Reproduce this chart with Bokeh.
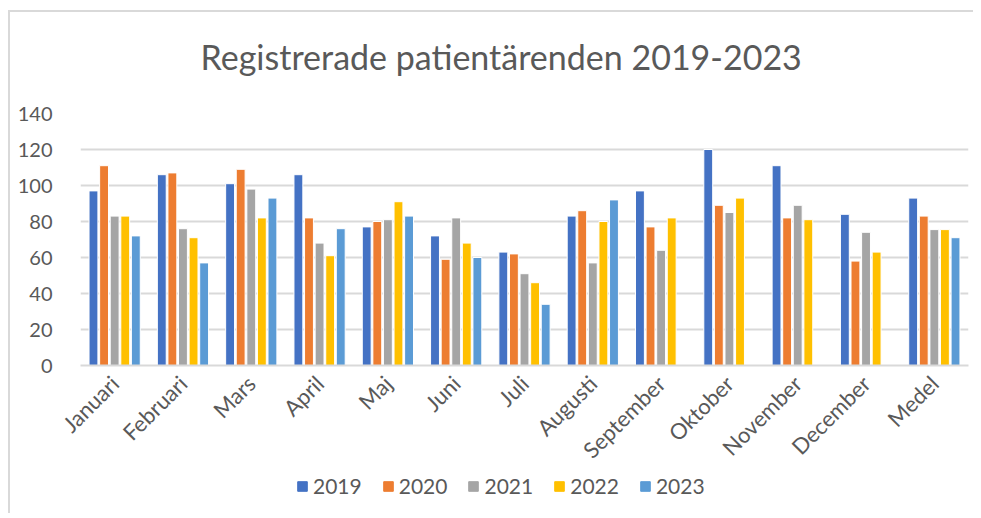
import math
from bokeh.plotting import figure
from bokeh.layouts import column
from bokeh.models import ColumnDataSource, FactorRange, Legend, LegendItem, Title
from bokeh.transform import dodge
from bokeh.embed import file_html
from bokeh.resources import INLINE

months = ["Januari", "Februari", "Mars", "April", "Maj", "Juni", "Juli",
          "Augusti", "September", "Oktober", "November", "December", "Medel"]
years = ["2019", "2020", "2021", "2022", "2023"]
v2019 = [97, 106, 101, 106, 77, 72, 63, 83, 97, 120, 111, 84, 93]
v2020 = [111, 107, 109, 82, 80, 59, 62, 86, 77, 89, 82, 58, 83]
v2021 = [83, 76, 98, 68, 81, 82, 51, 57, 64, 85, 89, 74, 75.5]
v2022 = [83, 71, 82, 61, 91, 68, 46, 80, 82, 93, 81, 63, 75.5]
v2023 = [72, 57, 93, 76, 83, 60, 34, 92, None, None, None, None, 71]
colors = ["#4472C4", "#ED7D31", "#A5A5A5", "#FFC000", "#5B9BD5"]
series = [v2019, v2020, v2021, v2022, v2023]
offsets = [-0.31, -0.155, 0.0, 0.155, 0.31]

TXT = "#595959"
FONT = "Lato"
BORDER = "2px solid #D9D9D9"

p = figure(x_range=FactorRange(*months, range_padding=0), y_range=(0, 140),
           width=965, height=463, output_backend="svg", toolbar_location=None,
           min_border_left=70, min_border_right=7, min_border_top=101,
           min_border_bottom=110)
p.styles = {"border-left": BORDER, "border-top": BORDER,
            "position": "relative", "left": "8px", "top": "10px"}

# legend strip below the chart (shares the data; its bars fall outside its y range)
q = figure(width=965, height=40, x_range=FactorRange(*months, range_padding=0),
           y_range=(1000, 1001), output_backend="svg", toolbar_location=None,
           min_border_left=0, min_border_right=0, min_border_top=0, min_border_bottom=0)
q.styles = {"border-left": BORDER, "position": "relative", "left": "8px", "top": "10px"}
q.axis.visible = False
q.grid.grid_line_color = None
q.outline_line_color = None
q.background_fill_color = "white"
q.border_fill_color = "white"

items = []
for yr, vals, col, off in zip(years, series, colors, offsets):
    xs = [m for m, v in zip(months, vals) if v is not None]
    ys = [v for v in vals if v is not None]
    src = ColumnDataSource(dict(x=xs, top=ys))
    p.vbar(x=dodge("x", off, range=p.x_range), top="top", width=0.13,
           source=src, fill_color=col, line_color="white", line_width=1)
    r = q.vbar(x=dodge("x", off, range=q.x_range), top="top", width=0.13,
               source=src, fill_color=col, line_color=col)
    items.append(LegendItem(label=yr, renderers=[r]))

# spacer between frame and title (pushes the title upward)
p.add_layout(Title(text=" ", text_font_size="2px", standoff=33), "above")
p.title.text = "Registrerade patientärenden 2019-2023"
p.title.align = "left"
p.title.text_font = FONT
p.title.text_font_style = "normal"
p.title.text_font_size = "34px"
p.title.text_color = TXT
p.title.offset = 120
p.title.standoff = 0

p.outline_line_color = None
p.background_fill_color = "white"
p.border_fill_color = "white"

p.xgrid.grid_line_color = None
p.ygrid.grid_line_color = "#D9D9D9"
p.ygrid.grid_line_width = 2
p.yaxis.ticker = [0, 20, 40, 60, 80, 100, 120, 140]
p.yaxis.axis_line_color = None
p.yaxis.major_tick_line_color = None
p.yaxis.minor_tick_line_color = None
p.yaxis.major_label_standoff = 22
p.yaxis.major_label_text_font = FONT
p.yaxis.major_label_text_font_size = "20px"
p.yaxis.major_label_text_color = TXT

p.xaxis.axis_line_color = "#D9D9D9"
p.xaxis.axis_line_width = 2
p.xaxis.major_tick_line_color = None
p.xaxis.minor_tick_line_color = None
p.xaxis.major_label_orientation = math.pi / 4
p.xaxis.major_label_standoff = 8
p.xaxis.major_label_text_font = FONT
p.xaxis.major_label_text_font_size = "22px"
p.xaxis.major_label_text_color = TXT

legend = Legend(items=items, orientation="horizontal", location=(216, 15),
                border_line_color=None, background_fill_alpha=0,
                padding=0, margin=0, spacing=20, glyph_width=12, glyph_height=12,
                label_standoff=5, label_text_font=FONT, label_text_font_size="21px",
                label_text_color=TXT)
q.add_layout(legend, "center")

layout = column(p, q, spacing=0)
open("out.html", "w").write(file_html(layout, INLINE))
